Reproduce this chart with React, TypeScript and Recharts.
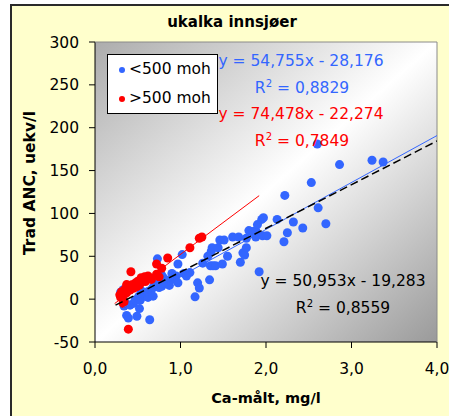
import React from "react";
import {
  ScatterChart,
  Scatter,
  XAxis,
  YAxis,
  ZAxis,
  CartesianGrid,
  Legend,
} from "recharts";

// Ca (mg/l) vs Trad ANC (uekv/l), lakes below 500 m a.s.l.
const lowLakes: { x: number; y: number }[] = [
  [0.30, 8], [0.33, 11], [0.34, -8], [0.36, -5], [0.37, -19], [0.39, -22], [0.41, -7],
  [0.45, -5], [0.47, -1], [0.49, -20], [0.51, 3], [0.52, -11], [0.53, -1], [0.54, 7],
  [0.54, 10], [0.58, 7], [0.60, 3], [0.62, 9], [0.62, 2], [0.64, -24], [0.66, 11],
  [0.68, 3.5], [0.68, 14], [0.70, 18], [0.73, 47], [0.75, 13.6], [0.76, 20], [0.78, 15],
  [0.78, 28], [0.80, 25], [0.82, 18], [0.86, 22], [0.87, 16], [0.90, 30], [0.93, 23],
  [0.95, 27], [0.97, 41], [0.97, 19], [1.02, 52], [1.04, 30], [1.07, 27], [1.11, 31],
  [1.17, 2.7], [1.20, 19], [1.22, 13], [1.26, 42], [1.32, 50], [1.34, 22.5], [1.35, 39],
  [1.36, 56], [1.37, 60], [1.38, 39], [1.41, 39], [1.44, 60], [1.46, 69], [1.49, 41],
  [1.51, 69], [1.55, 50], [1.61, 72.5], [1.68, 72.5], [1.70, 43], [1.73, 54], [1.75, 51.5],
  [1.77, 60], [1.77, 71], [1.80, 80], [1.83, 79], [1.85, 78], [1.88, 80], [1.88, 72.5],
  [1.90, 87], [1.92, 32], [1.95, 93], [1.97, 95], [1.96, 74], [2.01, 74], [2.13, 93],
  [2.21, 67], [2.22, 121], [2.25, 77.5], [2.32, 90], [2.43, 83], [2.53, 136], [2.61, 106.5],
  [2.60, 181], [2.70, 88], [2.86, 157], [3.24, 162], [3.37, 160],
].map(([x, y]) => ({ x, y }));

// lakes above 500 m a.s.l.
const highLakes: { x: number; y: number }[] = [
  [0.29, 5], [0.30, 2], [0.31, 8.6], [0.33, 3], [0.34, -3], [0.33, -5], [0.35, 11.7],
  [0.37, 7.5], [0.37, 17], [0.39, 14.8], [0.39, -35], [0.41, 10.6], [0.42, 32], [0.43, 16.8],
  [0.45, 12.6], [0.45, 15.5], [0.47, 18.7], [0.49, 14.6], [0.50, 21], [0.52, 16.5],
  [0.54, 19.3], [0.54, 25], [0.56, 23.4], [0.58, 26], [0.59, 20.5], [0.62, 27], [0.64, 25],
  [0.66, 23], [0.72, 29], [0.72, 41], [0.75, 26], [0.78, 36], [0.85, 48], [1.11, 60],
  [1.22, 71], [1.25, 72.5],
].map(([x, y]) => ({ x, y }));

// linear trendlines (Excel): slope, intercept, drawn x-range
const lowFit = { slope: 54.755, intercept: -28.176, r2: "0,8829", from: 0.33, to: 4.0 };
const highFit = { slope: 74.478, intercept: -22.274, r2: "0,7849", from: 0.23, to: 1.92 };
const allFit = { slope: 50.953, intercept: -19.283, r2: "0,8559", from: 0.24, to: 4.0 };

const xTicks = [0, 1, 2, 3, 4];
const yTicks = [-50, 0, 50, 100, 150, 200, 250, 300];

const BLUE = "#3366ff";
const RED = "#ff0000";
const FONT = "DejaVu Sans";

const fitLine = (f: typeof lowFit) =>
  [f.from, f.to].map((x) => ({ x, y: f.slope * x + f.intercept }));

const fmtNum = (v: number) => v.toFixed(3).replace(".", ",");
const equation = (f: typeof lowFit) =>
  `y = ${fmtNum(f.slope)}x - ${fmtNum(Math.abs(f.intercept))}`;

const tickStyle = { fontSize: 15.5, fill: "#000", fontFamily: FONT };

function Txt({
  x,
  y,
  color = "#000",
  size = 15.5,
  bold = false,
  rotate = 0,
  children,
}: {
  x: number;
  y: number;
  color?: string;
  size?: number;
  bold?: boolean;
  rotate?: number;
  children: React.ReactNode;
}) {
  return (
    <div
      style={{
        position: "absolute",
        left: x,
        top: y,
        transform: `translate(-50%, -50%) rotate(${rotate}deg)`,
        whiteSpace: "nowrap",
        lineHeight: 1,
        fontFamily: FONT,
        fontSize: size,
        fontWeight: bold ? "bold" : "normal",
        color,
      }}
    >
      {children}
    </div>
  );
}

function R2({ value }: { value: string }) {
  return (
    <>
      R<span style={{ fontSize: "0.65em", verticalAlign: "0.6em" }}>2</span> = {value}
    </>
  );
}

function LegendBox({ payload }: any) {
  const items = (payload || []).filter((p: any) => p.value === "<500 moh" || p.value === ">500 moh");
  return (
    <div
      style={{
        position: "relative",
        width: 109,
        height: 58,
        border: "1px solid #000",
        background: "#fff",
        fontFamily: FONT,
        fontSize: 15.5,
        color: "#000",
      }}
    >
      {items.map((p: any, i: number) => (
        <div key={p.value} style={{ position: "absolute", left: 0, top: 15 + i * 29 }}>
          <span
            style={{
              position: "absolute",
              left: 10.5,
              top: -3,
              width: 6,
              height: 6,
              borderRadius: "50%",
              background: p.color,
            }}
          />
          <span style={{ position: "absolute", left: 21, top: -8, lineHeight: 1, whiteSpace: "nowrap" }}>
            {p.value}
          </span>
        </div>
      ))}
    </div>
  );
}

export default function App() {
  return (
    <div
      style={{
        position: "absolute",
        left: 0,
        top: 0,
        width: 449,
        height: 416,
        overflow: "hidden",
        background: "#fff",
      }}
    >
      <svg width={0} height={0} style={{ position: "absolute" }}>
        <defs>
          <linearGradient id="plotBg" x1="0" y1="0" x2="1" y2="1">
            <stop offset="0" stopColor="#acacac" />
            <stop offset="0.5" stopColor="#ffffff" />
            <stop offset="1" stopColor="#9a9a9a" />
          </linearGradient>
        </defs>
      </svg>
      <div
        style={{
          position: "absolute",
          left: 10,
          top: 4,
          width: 460,
          height: 430,
          border: "2px solid #2a2a2a",
          background: "#ffffcc",
        }}
      />
      <div style={{ position: "absolute", left: 0, top: 0 }}>
        <ScatterChart width={449} height={416} margin={{ top: 41, right: 11, bottom: 44, left: 45 }}>
          <CartesianGrid horizontal={false} vertical={false} fill="url(#plotBg)" fillOpacity={1} />
          <XAxis
            type="number"
            dataKey="x"
            domain={[0, 4]}
            ticks={xTicks}
            tickFormatter={(v: number) => v.toFixed(1).replace(".", ",")}
            height={30}
            tickSize={6}
            tickMargin={15}
            tick={tickStyle}
            axisLine={{ stroke: "#000" }}
            tickLine={{ stroke: "#000" }}
            interval={0}
            allowDataOverflow
          />
          <YAxis
            type="number"
            dataKey="y"
            domain={[-50, 300]}
            ticks={yTicks}
            width={50}
            tickSize={6}
            tickMargin={10}
            tick={tickStyle}
            axisLine={{ stroke: "#000" }}
            tickLine={{ stroke: "#000" }}
            interval={0}
            allowDataOverflow
          />
          <XAxis
            xAxisId="top"
            orientation="top"
            type="number"
            domain={[0, 4]}
            height={1}
            tick={false}
            tickLine={false}
            axisLine={{ stroke: "#8a8a8a" }}
          />
          <YAxis
            yAxisId="right"
            orientation="right"
            type="number"
            domain={[-50, 300]}
            width={1}
            tick={false}
            tickLine={false}
            axisLine={{ stroke: "#8a8a8a" }}
          />
          <ZAxis range={[36, 36]} />
          <Legend
            layout="vertical"
            align="center"
            verticalAlign="middle"
            content={<LegendBox />}
            wrapperStyle={{ left: 107, top: 54, width: 111, height: 60 }}
          />
          <Scatter name="<500 moh" data={lowLakes} fill={BLUE} isAnimationActive={false} />
          <Scatter name=">500 moh" data={highLakes} fill={RED} isAnimationActive={false} />
          <Scatter
            name="fit >500"
            data={fitLine(highFit)}
            line={{ stroke: RED, strokeWidth: 1 }}
            shape={() => <g />}
            legendType="none"
            isAnimationActive={false}
          />
          <Scatter
            name="fit <500"
            data={fitLine(lowFit)}
            line={{ stroke: BLUE, strokeWidth: 1 }}
            shape={() => <g />}
            legendType="none"
            isAnimationActive={false}
          />
          <Scatter
            name="fit all"
            data={fitLine(allFit)}
            line={{ stroke: "#000", strokeWidth: 1.5, strokeDasharray: "8 4" }}
            shape={() => <g />}
            legendType="none"
            isAnimationActive={false}
          />
        </ScatterChart>
      </div>

      <Txt x={232} y={22} size={15} bold>
        ukalka innsjøer
      </Txt>
      <Txt x={31} y={183} size={15.5} bold rotate={-90}>
        Trad ANC, uekv/l
      </Txt>
      <Txt x={266} y={398} size={14.5} bold>
        Ca-målt, mg/l
      </Txt>

      <Txt x={301} y={62} color={BLUE}>{equation(lowFit)}</Txt>
      <Txt x={302} y={88} color={BLUE}><R2 value={lowFit.r2} /></Txt>
      <Txt x={301} y={115} color={RED}>{equation(highFit)}</Txt>
      <Txt x={302} y={141} color={RED}><R2 value={highFit.r2} /></Txt>
      <Txt x={343} y={282} color="#000">{equation(allFit)}</Txt>
      <Txt x={343} y={308} color="#000"><R2 value={allFit.r2} /></Txt>
    </div>
  );
}
